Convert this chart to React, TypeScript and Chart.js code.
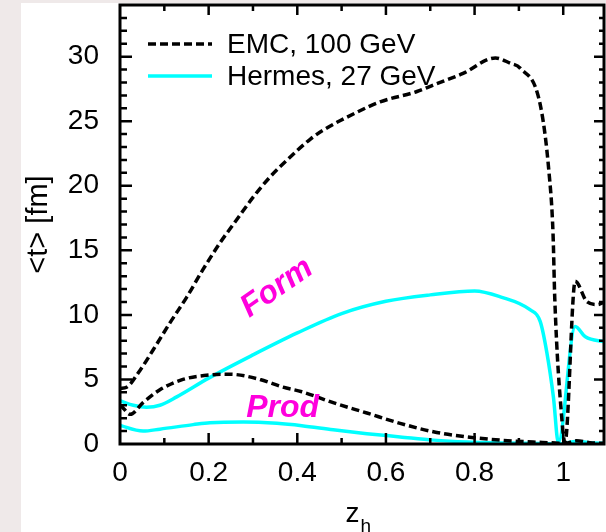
import React, { useEffect, useRef } from 'react';
import { Chart, registerables } from 'chart.js';

Chart.register(...registerables);

// ---- data (z_h, <t> in fm) ----
const EMC_FORM_Z = [0, 0.015, 0.045, 0.075, 0.113, 0.151, 0.187, 0.226, 0.264, 0.3, 0.339, 0.377, 0.429, 0.458, 0.535, 0.587, 0.67, 0.707, 0.774, 0.847, 0.88, 0.903, 0.948, 0.968, 0.977, 0.981, 0.997, 1.004, 1.027, 1.054, 1.077, 1.094];
const EMC_FORM_T = [4.3, 4.4, 5.7, 7.3, 9.4, 11.4, 13.5, 15.6, 17.4, 19.1, 20.7, 22.0, 23.6, 24.3, 25.7, 26.5, 27.3, 27.8, 28.7, 29.9, 29.5, 29.1, 26.3, 21.0, 16.3, 11.2, 1.9, 0.1, 12.6, 11.0, 10.8, 11.0];

const EMC_PROD_Z = [0, 0.004, 0.023, 0.052, 0.09, 0.142, 0.203, 0.248, 0.316, 0.368, 0.41, 0.481, 0.557, 0.632, 0.707, 0.783, 0.858, 0.932, 0.99, 1.0, 1.03, 1.06, 1.094];
const EMC_PROD_T = [3.0, 2.9, 2.3, 3.2, 4.2, 5.0, 5.35, 5.4, 5.0, 4.4, 4.05, 3.2, 2.4, 1.6, 0.95, 0.55, 0.3, 0.15, 0.05, 0.0, 0.25, 0.1, 0.05];

const HERMES_FORM_Z = [0, 0.004, 0.03, 0.06, 0.09, 0.128, 0.2, 0.3, 0.4, 0.5, 0.6, 0.7, 0.8, 0.858, 0.925, 0.948, 0.963, 0.978, 0.989, 1.027, 1.05, 1.094];
const HERMES_FORM_T = [3.35, 3.3, 3.0, 2.85, 3.0, 3.65, 5.1, 6.9, 8.6, 10.1, 11.05, 11.55, 11.85, 11.4, 10.4, 9.5, 7.1, 3.6, 0.1, 9.1, 8.3, 7.9];

const HERMES_PROD_Z = [0, 0.004, 0.052, 0.09, 0.165, 0.203, 0.278, 0.354, 0.41, 0.481, 0.557, 0.632, 0.707, 0.783, 0.86, 0.95, 0.99, 1.03, 1.06, 1.094];
const HERMES_PROD_T = [1.45, 1.4, 1.0, 1.15, 1.5, 1.65, 1.7, 1.6, 1.42, 1.1, 0.8, 0.55, 0.3, 0.15, 0.08, 0.03, 0.0, 0.2, 0.1, 0.05];

const X_TICKS = [0, 0.2, 0.4, 0.6, 0.8, 1];
const X_TICK_LABELS = ['0', '0.2', '0.4', '0.6', '0.8', '1'];
const Y_TICKS = [0, 5, 10, 15, 20, 25, 30];
const Y_TICK_LABELS = ['0', '5', '10', '15', '20', '25', '30'];

const LEGEND_LABELS = ['EMC, 100 GeV', 'Hermes, 27 GeV'];
const ANNOTATIONS = [
  { text: 'Form', z: 0.354, t: 12.1, angle: -35 },
  { text: 'Prod', z: 0.367, t: 2.8, angle: 0 },
];

const FONT = '"Liberation Sans", Arial, Helvetica, sans-serif';
const CYAN = '#00ffff';
const MAGENTA = '#ff00dd';
const DASH = [8, 4];

const pts = (zs: number[], ts: number[]) => zs.map((z, i) => ({ x: z, y: ts[i] }));

const decorPlugin = {
  id: 'decor',
  afterDatasetsDraw(chart: any) {
    const { ctx, chartArea: a } = chart;
    const xs = chart.scales.x;
    const ys = chart.scales.y;
    ctx.save();
    // inward tick marks on all sides
    ctx.strokeStyle = '#000';
    ctx.lineWidth = 2.5;
    ctx.beginPath();
    for (let k = 1; k <= 33; k++) {
      const p = ys.getPixelForValue(k);
      const major = k % 5 === 0;
      ctx.moveTo(a.left, p);
      ctx.lineTo(a.left + (major ? 12 : 7), p);
      ctx.moveTo(a.right, p);
      ctx.lineTo(a.right - (major ? 10 : 5), p);
    }
    for (let k = 1; k <= 10; k++) {
      const p = xs.getPixelForValue(k / 10);
      const major = k % 2 === 0;
      ctx.moveTo(p, a.bottom);
      ctx.lineTo(p, a.bottom - (major ? 11 : 6));
      ctx.moveTo(p, a.top);
      ctx.lineTo(p, a.top + (major ? 10 : 6));
    }
    ctx.stroke();
    ctx.lineWidth = 3;
    ctx.strokeRect(a.left, a.top, a.right - a.left, a.bottom - a.top);

    // legend
    const lx0 = a.left + 28;
    const lx1 = a.left + 92;
    const tx = a.left + 107;
    const rows = [
      { y: a.top + 39, color: '#000', dash: DASH },
      { y: a.top + 71, color: CYAN, dash: [] },
    ];
    ctx.font = `28px ${FONT}`;
    ctx.textAlign = 'left';
    ctx.textBaseline = 'middle';
    rows.forEach((r, i) => {
      ctx.beginPath();
      ctx.strokeStyle = r.color;
      ctx.lineWidth = 3.5;
      ctx.setLineDash(r.dash);
      ctx.moveTo(lx0, r.y);
      ctx.lineTo(lx1, r.y);
      ctx.stroke();
      ctx.setLineDash([]);
      ctx.fillStyle = '#000';
      ctx.fillText(LEGEND_LABELS[i], tx, r.y + 1);
    });

    // annotations
    ctx.fillStyle = MAGENTA;
    ctx.font = `italic bold 32px ${FONT}`;
    ctx.textAlign = 'center';
    ctx.textBaseline = 'middle';
    ANNOTATIONS.forEach((an) => {
      ctx.save();
      ctx.translate(xs.getPixelForValue(an.z), ys.getPixelForValue(an.t));
      ctx.rotate((an.angle * Math.PI) / 180);
      ctx.fillText(an.text, 0, 0);
      ctx.restore();
    });

    // axis titles
    ctx.fillStyle = '#000';
    ctx.save();
    ctx.translate(18, (a.top + a.bottom) / 2);
    ctx.rotate(-Math.PI / 2);
    ctx.font = `29px ${FONT}`;
    ctx.textAlign = 'center';
    ctx.textBaseline = 'middle';
    ctx.fillText('<t> [fm]', 0, 0);
    ctx.restore();

    ctx.textAlign = 'left';
    ctx.textBaseline = 'alphabetic';
    ctx.font = `28px ${FONT}`;
    const zx = xs.getPixelForValue(0.5) + 4;
    ctx.fillText('z', zx, a.bottom + 78);
    const zw = ctx.measureText('z').width;
    ctx.font = `19px ${FONT}`;
    ctx.fillText('h', zx + zw + 1, a.bottom + 88);
    ctx.restore();
  },
};

export default function App() {
  const ref = useRef<HTMLCanvasElement | null>(null);

  useEffect(() => {
    const canvas = ref.current;
    if (!canvas) return;
    const common = { pointRadius: 0, borderWidth: 3.5, fill: false, cubicInterpolationMode: 'monotone' as const };
    const chart = new Chart(canvas, {
      type: 'line',
      data: {
        datasets: [
          { label: 'EMC Form', data: pts(EMC_FORM_Z, EMC_FORM_T), borderColor: '#000', borderDash: DASH, ...common },
          { label: 'EMC Prod', data: pts(EMC_PROD_Z, EMC_PROD_T), borderColor: '#000', borderDash: DASH, ...common },
          { label: 'Hermes Form', data: pts(HERMES_FORM_Z, HERMES_FORM_T), borderColor: CYAN, ...common },
          { label: 'Hermes Prod', data: pts(HERMES_PROD_Z, HERMES_PROD_T), borderColor: CYAN, ...common },
        ],
      },
      options: {
        animation: false,
        responsive: false,
        devicePixelRatio: 1,
        events: [],
        layout: { padding: { top: 2, right: 2, left: 0, bottom: 0 } },
        plugins: { legend: { display: false }, tooltip: { enabled: false }, title: { display: false } },
        scales: {
          x: {
            type: 'linear',
            min: 0,
            max: 1.092,
            grid: { display: false, drawTicks: false },
            border: { display: false },
            ticks: {
              font: { family: FONT, size: 28 },
              color: '#000',
              padding: 12,
              maxRotation: 0,
              autoSkip: false,
              callback: (_v: any, i: number) => X_TICK_LABELS[i],
            },
            afterBuildTicks: (s: any) => {
              s.ticks = X_TICKS.map((v) => ({ value: v }));
            },
            afterFit: (s: any) => {
              s.height = 88;
              s.paddingLeft = 0;
              s.paddingRight = 0;
            },
          },
          y: {
            type: 'linear',
            min: 0,
            max: 34,
            grid: { display: false, drawTicks: false },
            border: { display: false },
            ticks: {
              font: { family: FONT, size: 28 },
              color: '#000',
              padding: 21,
              autoSkip: false,
              callback: (_v: any, i: number) => Y_TICK_LABELS[i],
            },
            afterBuildTicks: (s: any) => {
              s.ticks = Y_TICKS.map((v) => ({ value: v }));
            },
            afterFit: (s: any) => {
              s.width = 99;
              s.paddingTop = 0;
              s.paddingBottom = 0;
            },
          },
        },
      } as any,
      plugins: [decorPlugin],
    });
    return () => chart.destroy();
  }, []);

  return (
    <div style={{ position: 'fixed', left: 0, top: 0, width: 606, height: 532, background: '#efe9e9', overflow: 'hidden' }}>
      <canvas
        ref={ref}
        width={585}
        height={529}
        style={{ position: 'absolute', left: 21, top: 3, width: 585, height: 529, background: '#ffffff' }}
      />
    </div>
  );
}
